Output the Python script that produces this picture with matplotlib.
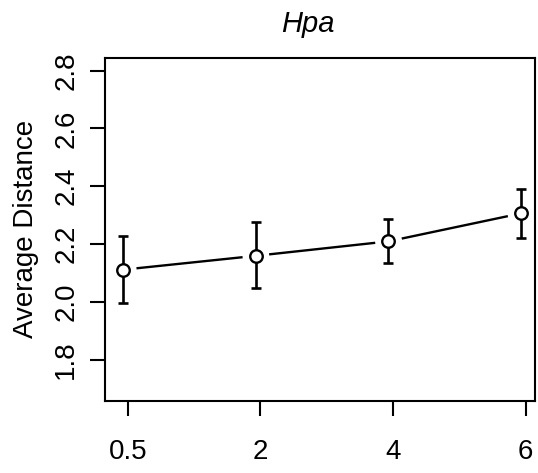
import matplotlib
matplotlib.use("Agg")
import matplotlib.pyplot as plt
import numpy as np

plt.rcParams["font.family"] = ["Liberation Sans", "DejaVu Sans"]

categories = ["0.5", "2", "4", "6"]
means = [2.111, 2.159, 2.209, 2.306]
upper = [2.229, 2.276, 2.287, 2.391]
lower = [1.995, 2.046, 2.134, 2.221]
yticks = [1.8, 2.0, 2.2, 2.4, 2.6, 2.8]

fig = plt.figure(figsize=(5.38, 4.73), dpi=100)
ax = fig.add_axes([0.195, 0.152, 0.7995, 0.7255])

pos = np.arange(1, len(categories) + 1)
xs = pos - 0.035
m = np.array(means)

# lines with gaps around the points (R type="b")
gap = 0.1
for i in range(len(xs) - 1):
    x0, x1 = xs[i], xs[i + 1]
    y0, y1 = m[i], m[i + 1]
    f = gap / (x1 - x0)
    ax.plot([x0 + f * (x1 - x0), x1 - f * (x1 - x0)],
            [y0 + f * (y1 - y0), y1 - f * (y1 - y0)],
            color="black", lw=1.7, solid_capstyle="butt")

ax.errorbar(xs, m, yerr=[m - np.array(lower), np.array(upper) - m],
            fmt="none", ecolor="black", elinewidth=1.9, capsize=3.8, capthick=1.9)
ax.plot(xs, m, "o", mfc="white", mec="black", ms=9, mew=1.7, zorder=3)

ax.set_xlim(0.827, 4.07)
ax.set_ylim(1.656, 2.844)
ax.set_xticks(pos)
ax.set_xticklabels(categories)
ax.set_yticks(yticks)
ax.set_yticklabels([f"{v:.1f}" for v in yticks], rotation=90, va="center")

for s in ax.spines.values():
    s.set_linewidth(1.5)
ax.tick_params(axis="both", length=10.5, width=1.5, labelsize=20, pad=8)
ax.tick_params(axis="x", pad=17)

fig.text(308 / 538, 1 - 24 / 473, "Hpa", style="italic", fontsize=21,
         ha="center", va="center")
fig.text(26 / 538, 1 - 229 / 473, "Average Distance", rotation=90, fontsize=20,
         ha="center", va="center")

fig.savefig("out.png", dpi=100)
